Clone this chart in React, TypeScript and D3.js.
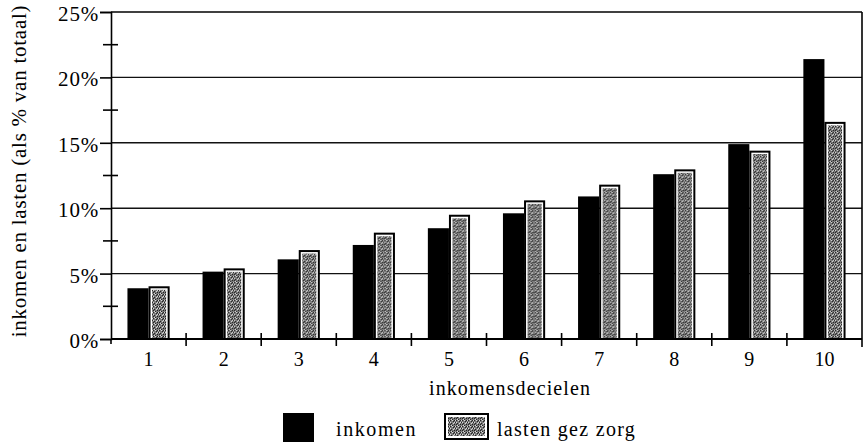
import { useRef, useEffect } from 'react';
import * as d3 from 'd3';

const DECILES = ['1', '2', '3', '4', '5', '6', '7', '8', '9', '10'];
const INKOMEN = [3.88, 5.15, 6.09, 7.19, 8.47, 9.61, 10.9, 12.6, 14.9, 21.4];
const LASTEN = [4.03, 5.4, 6.8, 8.13, 9.5, 10.6, 11.8, 12.97, 14.4, 16.6];
const SERIES = ['inkomen', 'lasten gez zorg'];
const Y_TICKS = [0, 5, 10, 15, 20, 25];
const Y_MINOR = [2.5, 7.5, 12.5, 17.5, 22.5];

const FONT = '"Liberation Serif", "DejaVu Serif", serif';

export default function App() {
  const svgRef = useRef<SVGSVGElement>(null);

  useEffect(() => {
    const svg = d3.select(svgRef.current);
    svg.selectAll('*').remove();

    const W = 868, H = 448;
    const left = 111, right = 862, top = 12, bottom = 339;

    // stipple texture for the second series
    const defs = svg.append('defs');
    const pat = defs.append('pattern')
      .attr('id', 'stip')
      .attr('patternUnits', 'userSpaceOnUse')
      .attr('width', 6).attr('height', 6);
    pat.append('rect').attr('width', 6).attr('height', 6).attr('fill', '#7a7a7a');
    const dark = [[0, 0], [3, 1], [1, 3], [4, 4], [5, 2], [2, 5], [0, 4], [4, 0]];
    const light = [[2, 0], [5, 0], [0, 2], [3, 3], [1, 5], [4, 2]];
    dark.forEach(([x, y]) => pat.append('rect').attr('x', x).attr('y', y).attr('width', 1).attr('height', 1).attr('fill', '#222'));
    light.forEach(([x, y]) => pat.append('rect').attr('x', x).attr('y', y).attr('width', 1).attr('height', 1).attr('fill', '#d8d8d8'));

    svg.append('rect').attr('width', W).attr('height', H).attr('fill', '#fff');

    const x = d3.scaleBand<string>().domain(DECILES).range([left, right]).padding(0);
    const x1 = d3.scaleBand<string>().domain(SERIES).range([0, x.bandwidth()]).paddingInner(0).paddingOuter(0.78);
    const y = d3.scaleLinear().domain([0, 25]).range([bottom, top]);

    // gridlines
    svg.append('g').selectAll('line')
      .data(Y_TICKS.filter(t => t > 0 && t < 25))
      .join('line')
      .attr('x1', left).attr('x2', right)
      .attr('y1', d => y(d)).attr('y2', d => y(d))
      .attr('stroke', '#111').attr('stroke-width', 1.4);

    // frame: top and right
    svg.append('line').attr('x1', left).attr('x2', right).attr('y1', y(25)).attr('y2', y(25))
      .attr('stroke', '#000').attr('stroke-width', 1.6);
    svg.append('line').attr('x1', right).attr('x2', right).attr('y1', y(25)).attr('y2', bottom + 8)
      .attr('stroke', '#000').attr('stroke-width', 1.6);

    // bars
    const groups = svg.append('g').selectAll('g')
      .data(DECILES)
      .join('g')
      .attr('transform', d => `translate(${x(d)},0)`);

    groups.append('rect')
      .attr('x', x1(SERIES[0])!)
      .attr('width', x1.bandwidth())
      .attr('y', (_, i) => y(INKOMEN[i]))
      .attr('height', (_, i) => bottom - y(INKOMEN[i]))
      .attr('fill', '#000');

    groups.append('rect')
      .attr('x', x1(SERIES[1])! + 1)
      .attr('width', x1.bandwidth() - 2)
      .attr('y', (_, i) => y(LASTEN[i]) + 1)
      .attr('height', (_, i) => bottom - y(LASTEN[i]) - 1)
      .attr('fill', '#fff')
      .attr('stroke', '#000').attr('stroke-width', 2);

    groups.append('rect')
      .attr('x', x1(SERIES[1])! + 3.5)
      .attr('width', x1.bandwidth() - 7)
      .attr('y', (_, i) => y(LASTEN[i]) + 3.5)
      .attr('height', (_, i) => bottom - y(LASTEN[i]) - 3.5)
      .attr('fill', 'url(#stip)');

    // y axis
    const yAxis = svg.append('g').attr('transform', `translate(${left},0)`)
      .call(d3.axisLeft(y).tickValues(Y_TICKS).tickSize(11).tickPadding(1).tickFormat(d => `${d}%`));
    yAxis.select('.domain').attr('stroke', '#000').attr('stroke-width', 1.6);
    yAxis.selectAll('.tick line').attr('stroke', '#000').attr('stroke-width', 1.6);
    yAxis.selectAll('.tick text')
      .attr('fill', '#000').attr('dy', '0.4em')
      .style('font-family', FONT).style('font-size', '21px').style('letter-spacing', '0.8px');
    svg.append('line').attr('x1', left).attr('x2', left).attr('y1', bottom).attr('y2', bottom + 5)
      .attr('stroke', '#000').attr('stroke-width', 1.6);

    svg.append('g').selectAll('line')
      .data(Y_MINOR)
      .join('line')
      .attr('x1', left - 8).attr('x2', left + 7)
      .attr('y1', d => y(d)).attr('y2', d => y(d))
      .attr('stroke', '#000').attr('stroke-width', 1.6);

    // x axis
    svg.append('line').attr('x1', left).attr('x2', right).attr('y1', bottom).attr('y2', bottom)
      .attr('stroke', '#000').attr('stroke-width', 1.8);
    svg.append('g').selectAll('line')
      .data(DECILES.slice(1))
      .join('line')
      .attr('x1', d => x(d)!).attr('x2', d => x(d)!)
      .attr('y1', bottom - 6).attr('y2', bottom + 7)
      .attr('stroke', '#000').attr('stroke-width', 1.6);
    svg.append('g').selectAll('text')
      .data(DECILES)
      .join('text')
      .attr('x', d => x(d)! + x.bandwidth() / 2)
      .attr('y', bottom + 27)
      .attr('text-anchor', 'middle')
      .style('font-family', FONT).style('font-size', '20px')
      .text(d => d);

    svg.append('text')
      .attr('x', 510).attr('y', 395)
      .attr('text-anchor', 'middle')
      .style('font-family', FONT).style('font-size', '20px').style('letter-spacing', '1.1px')
      .text('inkomensdecielen');

    svg.append('text')
      .attr('transform', `translate(26,171) rotate(-90)`)
      .attr('text-anchor', 'middle')
      .style('font-family', FONT).style('font-size', '21px').style('letter-spacing', '0.75px')
      .text('inkomen en lasten (als % van totaal)');

    // legend
    const lg = svg.append('g');
    lg.append('rect').attr('x', 283).attr('y', 413).attr('width', 31).attr('height', 29).attr('fill', '#000');
    lg.append('text').attr('x', 336).attr('y', 436)
      .style('font-family', FONT).style('font-size', '20px').style('letter-spacing', '1.6px')
      .text(SERIES[0]);
    lg.append('rect').attr('x', 445).attr('y', 414).attr('width', 43).attr('height', 25)
      .attr('fill', '#fff').attr('stroke', '#000').attr('stroke-width', 2);
    lg.append('rect').attr('x', 448).attr('y', 417).attr('width', 37).attr('height', 19).attr('fill', 'url(#stip)');
    lg.append('text').attr('x', 497).attr('y', 436)
      .style('font-family', FONT).style('font-size', '20px').style('letter-spacing', '1.3px')
      .text(SERIES[1]);
  }, []);

  return (
    <svg ref={svgRef} width={868} height={448}
      style={{ position: 'absolute', left: 0, top: 0, display: 'block' }} />
  );
}
